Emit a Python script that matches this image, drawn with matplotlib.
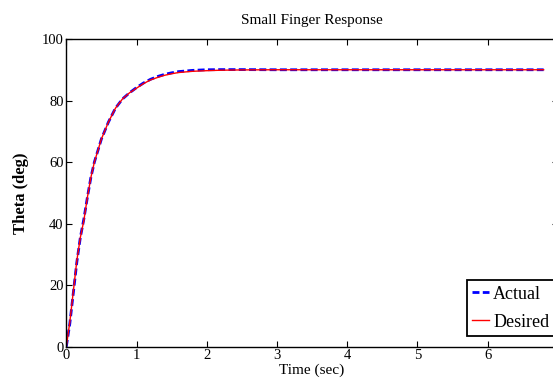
import matplotlib
matplotlib.use("Agg")
import matplotlib.pyplot as plt

# Sampled step response (time in seconds, angle in degrees)
time_s = [0, 0.05, 0.1, 0.15, 0.2, 0.25, 0.3, 0.35, 0.4, 0.5, 0.6, 0.7, 0.8,
          0.9, 1.0, 1.1, 1.2, 1.3, 1.4, 1.5, 1.6, 1.8, 2.0, 2.2, 2.5, 3.0,
          4.0, 5.0, 6.0, 6.8]
desired_deg = [0, 8, 18, 28, 35.5, 41, 48.5, 55, 60, 67.5, 73, 77.5, 80.5,
               82.5, 84, 85.5, 86.7, 87.5, 88.2, 88.7, 89.1, 89.5, 89.7,
               89.85, 89.95, 90, 90, 90, 90, 90]
actual_deg = [0, 7.5, 17.5, 27.5, 35.5, 41.5, 48.5, 55, 60, 67.5, 73, 77.5,
              80.5, 82.5, 84.2, 85.7, 86.9, 87.8, 88.5, 89.0, 89.4, 89.8,
              90.0, 90.05, 90.05, 90, 90, 90, 90, 90]

x_ticks = [0, 1, 2, 3, 4, 5, 6]
y_ticks = [0, 20, 40, 60, 80, 100]

plt.rcParams["font.family"] = ["Liberation Serif", "DejaVu Serif"]

fig = plt.figure(figsize=(5.53, 3.91), dpi=100)
ax = fig.add_axes([0.1199, 0.1133, 0.8886, 0.7870])

ax.plot(time_s, actual_deg, color=(0, 0, 1), linestyle=(0, (2.5, 1.2)),
        linewidth=2.0, label="Actual")
ax.plot(time_s, desired_deg, color=(1, 0, 0), linewidth=1.0, label="Desired")

ax.set_xlim(0, 7)
ax.set_ylim(0, 100)
ax.set_xticks(x_ticks)
ax.set_yticks(y_ticks)
ax.tick_params(direction="in", length=4, width=0.8, top=True, right=True,
               labelsize=10.5, pad=2, colors="black")
for s in ax.spines.values():
    s.set_linewidth(1.0)

ax.set_title("Small Finger Response", fontsize=11, pad=11)
ax.set_xlabel("Time (sec)", fontsize=11, labelpad=1)
ax.set_ylabel("Theta (deg)", fontsize=12, fontweight="bold", labelpad=9)

leg = ax.legend(loc="lower left", bbox_to_anchor=(0.8154, 0.0348),
                borderaxespad=0, fontsize=13, handlelength=0.9,
                handletextpad=0.25, borderpad=0.3, labelspacing=0.6,
                fancybox=False, framealpha=1, edgecolor="black")
leg.get_frame().set_linewidth(1.3)

fig.savefig("out.png", dpi=100)
